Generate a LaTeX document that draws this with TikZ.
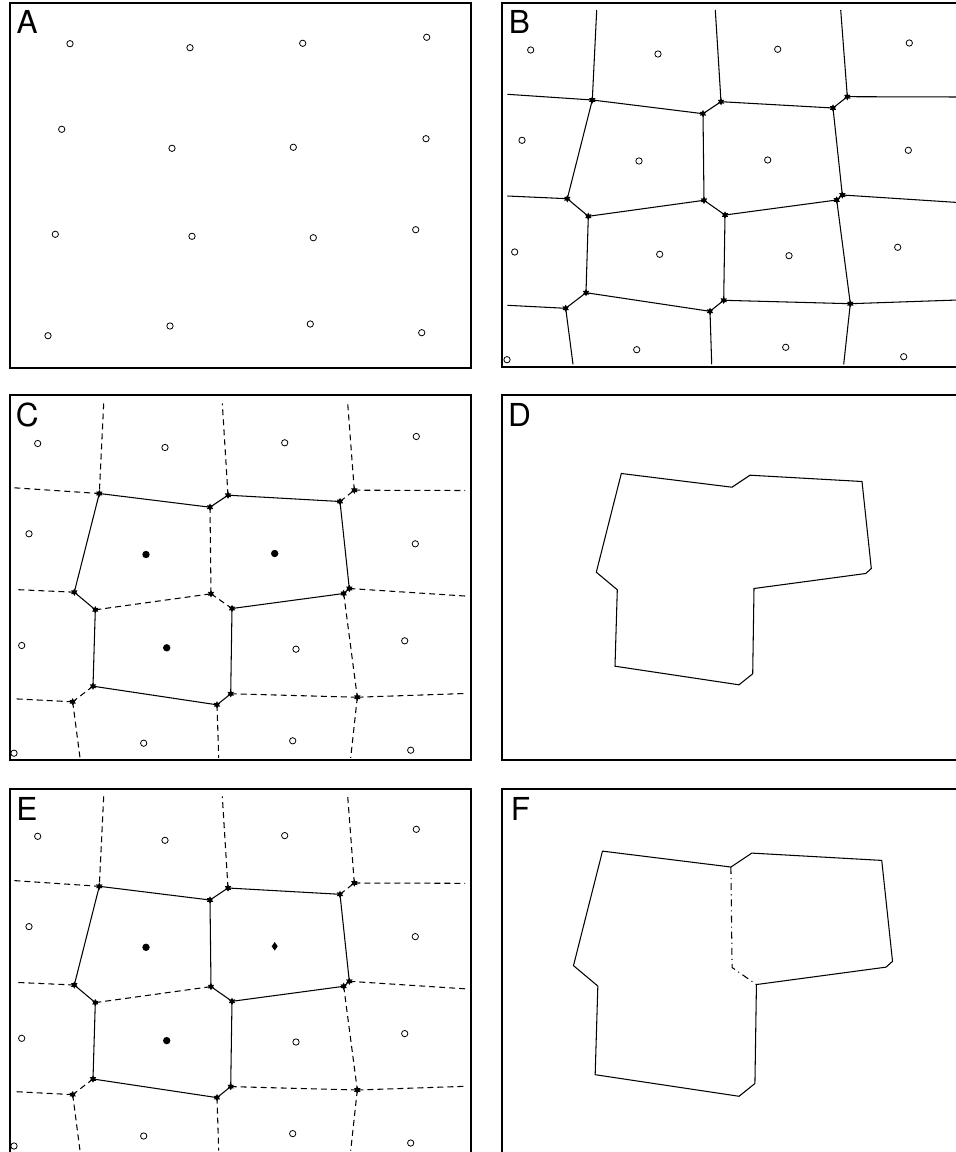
\documentclass[tikz,border=0pt]{standalone}
\usepackage{fontspec}
\newfontfamily\labfont{TeX Gyre Heros}
\usetikzlibrary{shapes.geometric}

% Voronoi vertices and border ends, in the coordinates of panel B
\newcommand{\vorcoords}{%
  \coordinate (v1) at (592.3,100);   \coordinate (v2) at (703,113.7);
  \coordinate (v3) at (721,101.7);   \coordinate (v4) at (833,108);
  \coordinate (v5) at (847.3,96.7);  \coordinate (v6) at (567.3,198.7);
  \coordinate (v7) at (588.3,216.3); \coordinate (v8) at (704,200.3);
  \coordinate (v9) at (725,215);     \coordinate (v10) at (836.7,200);
  \coordinate (v11) at (842.3,195);  \coordinate (v12) at (586,292.7);
  \coordinate (v13) at (565.7,308.3); \coordinate (v14) at (710,311.3);
  \coordinate (v15) at (723.7,300.3); \coordinate (v16) at (850.3,303.7);
  \coordinate (t1) at (596.7,10);  \coordinate (t2) at (715.3,10);  \coordinate (t3) at (840.7,10);
  \coordinate (l1) at (507.3,94.3); \coordinate (l2) at (507.3,196); \coordinate (l3) at (507.3,305.3);
  \coordinate (r1) at (958,97);    \coordinate (r2) at (958,202.5); \coordinate (r3) at (958,300);
  \coordinate (b1) at (573,364.3); \coordinate (b2) at (711.7,364.3); \coordinate (b3) at (843.7,364.3);
}
% sites of panel B; #1..#3 = styles of the three merged cells
\newcommand{\vorsites}[3]{%
  \foreach \n/\x/\y in {11/530.7/50, 12/658/54, 13/777.7/49.3, 14/909.3/43,
      21/522/140.3, 24/908.3/150.3, 31/514.7/252, 33/789/255.7, 34/897.7/247.3,
      41/507/359.7, 42/636.7/349.7, 43/785.7/347.3, 44/903.7/356.7}
    \node[site] (s\n) at (\x,\y) {};
  \node[#1] (s22) at (639,161) {};
  \node[#2] (s23) at (767.7,160) {};
  \node[#3] (s32) at (659.7,254.3) {};
}
\newcommand{\vormarks}{%
  \foreach \i in {1,...,16} \node[vtx] (m\i) at (v\i) {};
}
\def\hulllist{v1/v2, v2/v3, v3/v4, v4/v11, v11/v10, v10/v9, v9/v15, v15/v14, v14/v12, v12/v7, v7/v6, v6/v1}
\def\innerlist{v2/v8, v8/v9, v7/v8}
\def\outerlist{t1/v1, l1/v1, v3/t2, v4/v5, v5/t3, v5/r1, v6/l2, v11/r2, v10/v16, v12/v13, v13/l3, v13/b1, v14/b2, v15/v16, v16/r3, v16/b3}

\begin{document}
\begin{tikzpicture}[x=0.02cm, y=-0.02cm,
    site/.style={circle, draw, fill=white, line width=0.45pt, inner sep=0pt, minimum size=3.6pt},
    chosen/.style={circle, fill, inner sep=0pt, minimum size=4.2pt},
    picked/.style={diamond, fill, inner sep=0pt, minimum width=3.6pt, minimum height=5pt},
    vtx/.style={star, star points=6, star point ratio=1.8, fill, inner sep=0pt, minimum size=4.2pt},
    vline/.style={line width=0.6pt},
    hidden/.style={vline, dash pattern=on 3.4pt off 2.3pt},
    seam/.style={vline, dash pattern=on 4pt off 2.3pt on 0.6pt off 2.3pt},
    panel/.style={line width=1.3pt},
    lab/.style={anchor=north west, inner sep=0pt, font=\labfont\fontsize{18}{18}\selectfont}
]
\useasboundingbox (0,0) rectangle (956,1152);

% A: the sites
\foreach \n/\x/\y in {11/70/43.7, 12/190/47.7, 13/302.7/43.3, 14/426.7/37.3,
    21/61.7/129.3, 22/172/148.3, 23/293.3/147.3, 24/426/138.7,
    31/55.3/234.3, 32/192/236.3, 33/313.3/237.7, 34/415.7/229.7,
    41/48/335.7, 42/170/326, 43/310.3/324, 44/421.7/332.7}
  \node[site] (a\n) at (\x,\y) {};

% B: Voronoi cells
\begin{scope}
  \vorcoords
  \foreach \a/\b in \hulllist \draw[vline] (\a) -- (\b);
  \foreach \a/\b in \innerlist \draw[vline] (\a) -- (\b);
  \foreach \a/\b in \outerlist \draw[vline] (\a) -- (\b);
  \vormarks
  \vorsites{site}{site}{site}
\end{scope}

% C: three cells merged
\begin{scope}[shift={(-493,393.5)}]
  \vorcoords
  \foreach \a/\b in \hulllist \draw[vline] (\a) -- (\b);
  \foreach \a/\b in \innerlist \draw[hidden] (\a) -- (\b);
  \foreach \a/\b in \outerlist \draw[hidden] (\a) -- (\b);
  \vormarks
  \vorsites{chosen}{chosen}{chosen}
\end{scope}

% D: outline of the merged region
\begin{scope}[shift={(29,373.5)}]
  \vorcoords
  \draw[vline] (v1) -- (v2) -- (v3) -- (v4) -- (v11) -- (v10) -- (v9) -- (v15)
    -- (v14) -- (v12) -- (v7) -- (v6) -- cycle;
\end{scope}

% E: one cell split off again
\begin{scope}[shift={(-493,786.3)}]
  \vorcoords
  \foreach \a/\b in \hulllist \draw[vline] (\a) -- (\b);
  \draw[vline] (v2) -- (v8) -- (v9);
  \draw[hidden] (v7) -- (v8);
  \foreach \a/\b in \outerlist \draw[hidden] (\a) -- (\b);
  \vormarks
  \vorsites{chosen}{picked}{chosen}
\end{scope}

% F: outline with the split line
\begin{scope}[shift={(-84.7,735.1)}, scale=1.16]
  \vorcoords
  \draw[vline] (v1) -- (v2) -- (v3) -- (v4) -- (v11) -- (v10) -- (v9) -- (v15)
    -- (v14) -- (v12) -- (v7) -- (v6) -- cycle;
  \draw[seam] (v2) -- (v8) -- (v9);
\end{scope}

% frames
\draw[panel] (10.3,3) rectangle (471,367.7);
\draw[panel] (502,3) rectangle (970,366.7);
\draw[panel] (10.3,395) rectangle (471,760);
\draw[panel] (502,395) rectangle (970,760);
\draw[panel] (10.3,789) rectangle (471,1160);
\draw[panel] (502,789) rectangle (970,1160);

\node[lab] (la) at (16.3,10.2) {A};
\node[lab] (lb) at (508.5,10.2) {B};
\node[lab] (lc) at (15.5,403) {C};
\node[lab] (ld) at (507.8,403) {D};
\node[lab] (le) at (16,796.7) {E};
\node[lab] (lf) at (510.5,796.7) {F};
\end{tikzpicture}
\end{document}
